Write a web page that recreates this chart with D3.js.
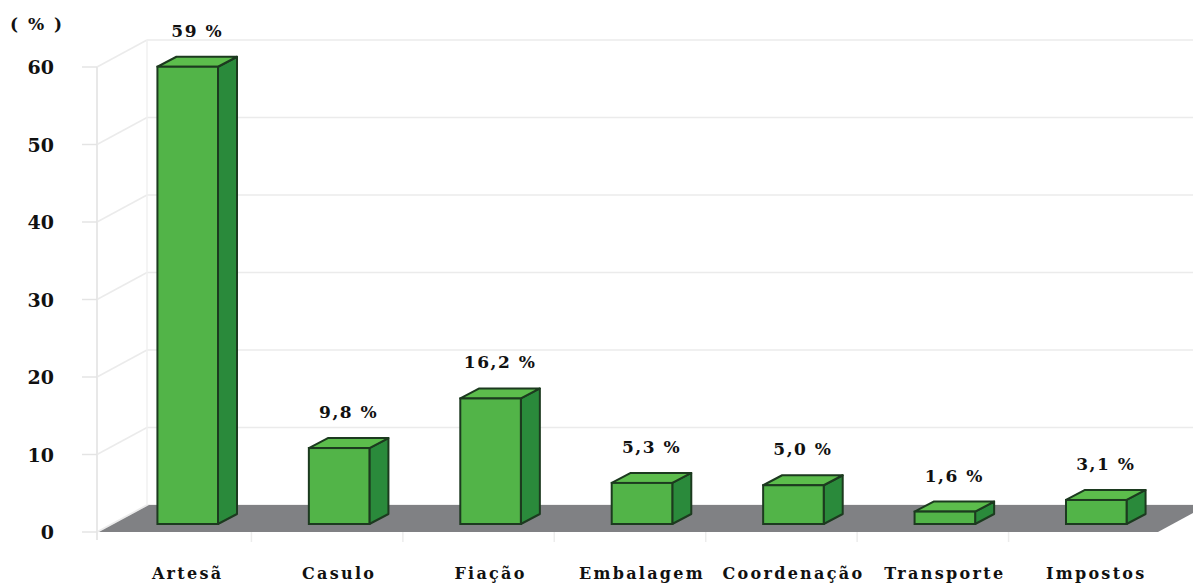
<!DOCTYPE html>
<html>
<head>
<meta charset="utf-8">
<script src="https://cdn.jsdelivr.net/npm/d3@7"></script>
<style>
  html, body { margin: 0; padding: 0; background: #ffffff; }
  svg text { font-family: "DejaVu Serif", "Liberation Serif", serif; font-weight: bold; fill: #111111; }
</style>
</head>
<body>
<div id="chart"></div>
<script>
'use strict';

const categories = ['Artesã', 'Casulo', 'Fiação', 'Embalagem', 'Coordenação', 'Transporte', 'Impostos'];
const values = [59, 9.8, 16.2, 5.3, 5.0, 1.6, 3.1];
const valueLabels = ['59 %', '9,8 %', '16,2 %', '5,3 %', '5,0 %', '1,6 %', '3,1 %'];
const yTicks = [0, 10, 20, 30, 40, 50, 60];
const unitLabel = '( % )';

const width = 1193;
const height = 585;

// 3d look: wall depth and bar depth
const wallDx = 50, wallDy = -27;
const barDx = 19, barDy = -10;
const barInset = 8;
const frontX = 97;

const svg = d3.select('#chart').append('svg')
  .attr('width', width)
  .attr('height', height);

const yScale = d3.scaleLinear()
  .domain([0, 60])
  .range([532, 67]);

const xScale = d3.scaleBand()
  .domain(categories)
  .range([112, 1172]);

const barW = xScale.bandwidth() * 0.4;

// back wall + side wall grid
const grid = svg.append('g');
grid.selectAll('line.back')
  .data(yTicks)
  .join('line')
  .attr('class', 'back')
  .attr('x1', frontX + wallDx)
  .attr('x2', width)
  .attr('y1', d => yScale(d) + wallDy)
  .attr('y2', d => yScale(d) + wallDy)
  .attr('stroke', '#ebebeb')
  .attr('stroke-width', 1.5);

grid.selectAll('line.side')
  .data(yTicks)
  .join('line')
  .attr('class', 'side')
  .attr('x1', frontX)
  .attr('x2', frontX + wallDx)
  .attr('y1', d => yScale(d))
  .attr('y2', d => yScale(d) + wallDy)
  .attr('stroke', '#ebebeb')
  .attr('stroke-width', 1.5);

grid.append('line')
  .attr('x1', frontX).attr('x2', frontX)
  .attr('y1', yScale(60)).attr('y2', yScale(0) + 8)
  .attr('stroke', '#e8e8e8')
  .attr('stroke-width', 2);

grid.append('line')
  .attr('x1', frontX + wallDx).attr('x2', frontX + wallDx)
  .attr('y1', yScale(60) + wallDy).attr('y2', yScale(0) + wallDy)
  .attr('stroke', '#f0f0f0')
  .attr('stroke-width', 1.5);

grid.selectAll('line.tick')
  .data(yTicks)
  .join('line')
  .attr('class', 'tick')
  .attr('x1', frontX - 15)
  .attr('x2', frontX)
  .attr('y1', d => yScale(d))
  .attr('y2', d => yScale(d))
  .attr('stroke', '#e4e4e4')
  .attr('stroke-width', 1.5);

// bottom category ticks
grid.selectAll('line.xtick')
  .data(categories.slice(1))
  .join('line')
  .attr('class', 'xtick')
  .attr('x1', d => xScale(d) - 12)
  .attr('x2', d => xScale(d) - 12)
  .attr('y1', yScale(0))
  .attr('y2', yScale(0) + 10)
  .attr('stroke', '#ececec')
  .attr('stroke-width', 1.5);

// floor
const floorLeft = frontX + 2;
const floorRight = 1158;
svg.append('path')
  .attr('d', `M${floorLeft},${yScale(0)} L${floorRight},${yScale(0)} L${floorRight + wallDx},${yScale(0) + wallDy} L${floorLeft + wallDx},${yScale(0) + wallDy} Z`)
  .attr('fill', '#808184');

// bars
const bars = svg.append('g')
  .selectAll('g.bar')
  .data(categories.map((c, i) => ({ cat: c, value: values[i], label: valueLabels[i] })))
  .join('g')
  .attr('class', 'bar');

const bx = d => xScale(d.cat) + (xScale.bandwidth() - barW) / 2;
const by0 = yScale(0) - barInset;
const byTop = d => yScale(d.value) - barInset;
const outline = '#1c3a1f';

bars.append('path')
  .attr('d', d => `M${bx(d) + barW},${by0} L${bx(d) + barW + barDx},${by0 + barDy} L${bx(d) + barW + barDx},${byTop(d) + barDy} L${bx(d) + barW},${byTop(d)} Z`)
  .attr('fill', '#2a8a3b')
  .attr('stroke', outline)
  .attr('stroke-width', 2)
  .attr('stroke-linejoin', 'round');

bars.append('path')
  .attr('d', d => `M${bx(d)},${byTop(d)} L${bx(d) + barDx},${byTop(d) + barDy} L${bx(d) + barW + barDx},${byTop(d) + barDy} L${bx(d) + barW},${byTop(d)} Z`)
  .attr('fill', '#5cbd4c')
  .attr('stroke', outline)
  .attr('stroke-width', 2)
  .attr('stroke-linejoin', 'round');

bars.append('text')
  .attr('x', d => bx(d) + barW / 2 + barDx / 2)
  .attr('y', d => byTop(d) - 30)
  .attr('text-anchor', 'middle')
  .style('font-size', '17px')
  .style('letter-spacing', '1.5px')
  .text(d => d.label);

bars.append('rect')
  .attr('x', bx)
  .attr('y', byTop)
  .attr('width', barW)
  .attr('height', d => by0 - byTop(d))
  .attr('fill', '#52b448')
  .attr('stroke', outline)
  .attr('stroke-width', 2);

// y tick labels
svg.append('g')
  .selectAll('text')
  .data(yTicks)
  .join('text')
  .attr('x', 54)
  .attr('y', d => yScale(d) + 7)
  .attr('text-anchor', 'end')
  .style('font-size', '19px')
  .text(d => d);

svg.append('text')
  .attr('x', 10)
  .attr('y', 30)
  .style('font-size', '17px')
  .style('letter-spacing', '2px')
  .text(unitLabel);

// category labels
svg.append('g')
  .selectAll('text')
  .data(categories)
  .join('text')
  .attr('x', d => xScale(d) + xScale.bandwidth() / 2)
  .attr('y', 579)
  .attr('text-anchor', 'middle')
  .style('font-size', '16px')
  .style('letter-spacing', '2.3px')
  .text(d => d);
</script>
</body>
</html>
